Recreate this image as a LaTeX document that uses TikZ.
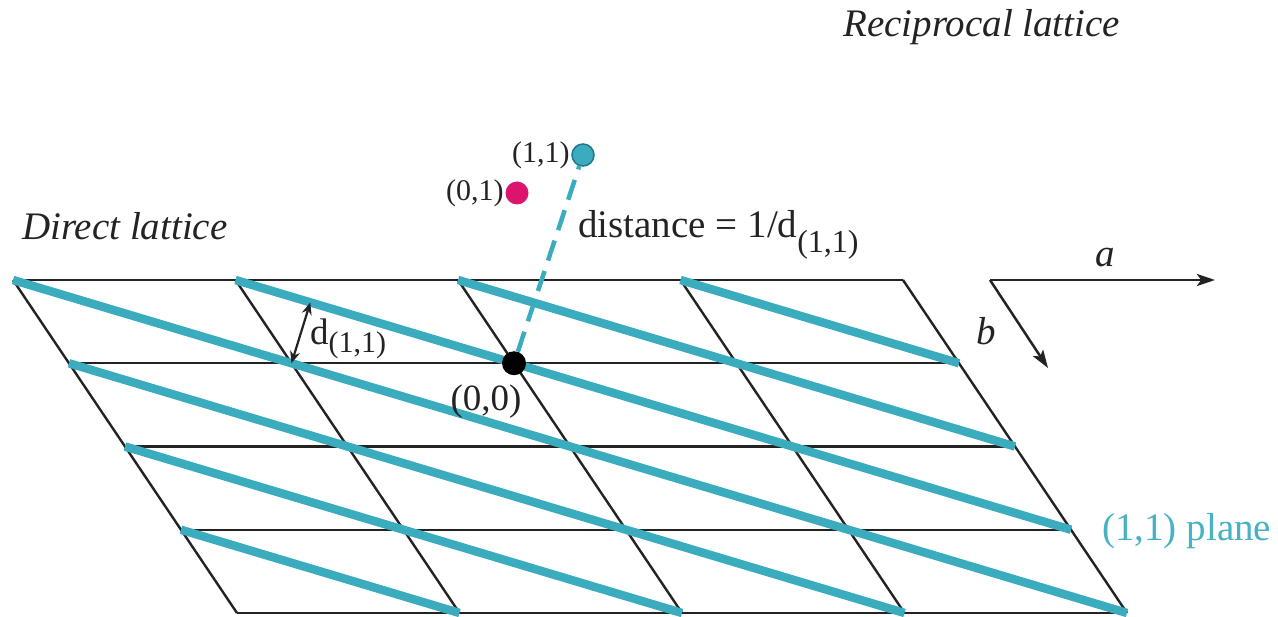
\documentclass[tikz,border=0pt]{standalone}
\usepackage{fontspec}
\setmainfont{Liberation Serif}
\usetikzlibrary{arrows.meta}
\definecolor{planecol}{RGB}{58,172,190}
\definecolor{planetext}{RGB}{70,178,195}
\definecolor{magcol}{RGB}{220,20,110}
\definecolor{dotedge}{RGB}{30,120,140}
\definecolor{gridcol}{RGB}{35,35,35}
\definecolor{txtcol}{RGB}{35,35,35}
\begin{document}
\begin{tikzpicture}[x=1pt,y=-1pt,
  gridline/.style={gridcol, line width=2.4pt},
  planeline/.style={planecol, line width=8.5pt},
  lbl/.style={inner sep=0pt, text=txtcol, anchor=base west},
  bigfont/.style={font=\fontsize{39}{40}\selectfont},
  midfont/.style={font=\fontsize{37}{40}\selectfont},
  smallfont/.style={font=\fontsize{30}{32}\selectfont},
  axisarrow/.style={gridcol, line width=2.5pt, -{Stealth[length=18pt,width=12pt,inset=4pt]}},
  dotnode/.style={circle, inner sep=0pt, minimum size=24pt},
]
\useasboundingbox (0,0) rectangle (1278,617);

% lattice points
\foreach \i in {0,...,4}{
  \foreach \j in {0,...,4}{
    \coordinate (p\i\j) at ({13+222.5*\i+56*\j},{280+83.25*\j});
  }
}

% grid
\foreach \j in {0,...,4}{\draw[gridline] (p0\j) -- (p4\j);}
\foreach \i in {0,...,4}{\draw[gridline] (p\i0) -- (p\i4);}

% (1,1) planes
\draw[planeline] (p00) -- (p44);
\draw[planeline] (p01) -- (p34);
\draw[planeline] (p02) -- (p24);
\draw[planeline] (p03) -- (p14);
\draw[planeline] (p10) -- (p43);
\draw[planeline] (p20) -- (p42);
\draw[planeline] (p30) -- (p41);

% reciprocal lattice points
\node[dotnode, fill=black] (o00) at (p21) {};
\node[dotnode, fill=planecol, draw=dotedge, line width=1.5pt, minimum size=22pt] (r11) at (583,155) {};
\node[dotnode, fill=magcol, minimum size=23pt] (r01) at (517,193) {};
\draw[planecol, line width=4.5pt, dash pattern=on 21pt off 11pt] (o00) -- (r11);

% labels of points
\node[inner sep=1.5pt, anchor=east, text=txtcol, smallfont] (l11) at (r11.west) {(1,1)};
\node[inner sep=1.5pt, anchor=east, text=txtcol, smallfont] (l01) at (r01.west) {(0,1)};
\node[lbl, midfont, anchor=base] (l00) at (486,411) {(0,0)};

\node[lbl, bigfont] (dist) at (578,238) {distance = 1/d{\fontsize{32}{32}\selectfont\raisebox{-15pt}{(1,1)}}};

% d(1,1) arrow
\coordinate (dtop) at (310.3,302.5);
\draw[gridcol, line width=2.2pt, {Stealth[length=12pt,width=10pt]}-{Stealth[length=12pt,width=10pt]}] (p11) -- (dtop);
\node[lbl, midfont] (dlbl) at (310,345) {d{\fontsize{30}{32}\selectfont\raisebox{-8pt}{(1,1)}}};

% titles
\node[lbl, bigfont] (direct) at (22,240) {\itshape Direct lattice};
\node[lbl, bigfont] (recip) at (843,37) {\itshape Reciprocal lattice};
\node[lbl, bigfont, text=planetext] (plane) at (1102,540) {(1,1) plane};

% axes
\coordinate (ax0) at (990,280);
\coordinate (axa) at (1215,280);
\coordinate (axb) at (1048,368);
\draw[axisarrow] (ax0) -- (axa);
\draw[axisarrow] (ax0) -- (axb);
\node[lbl, bigfont, anchor=base] (alab) at (1105,267) {\itshape a};
\node[lbl, bigfont] (blab) at (976,345) {\itshape b};
\end{tikzpicture}
\end{document}
